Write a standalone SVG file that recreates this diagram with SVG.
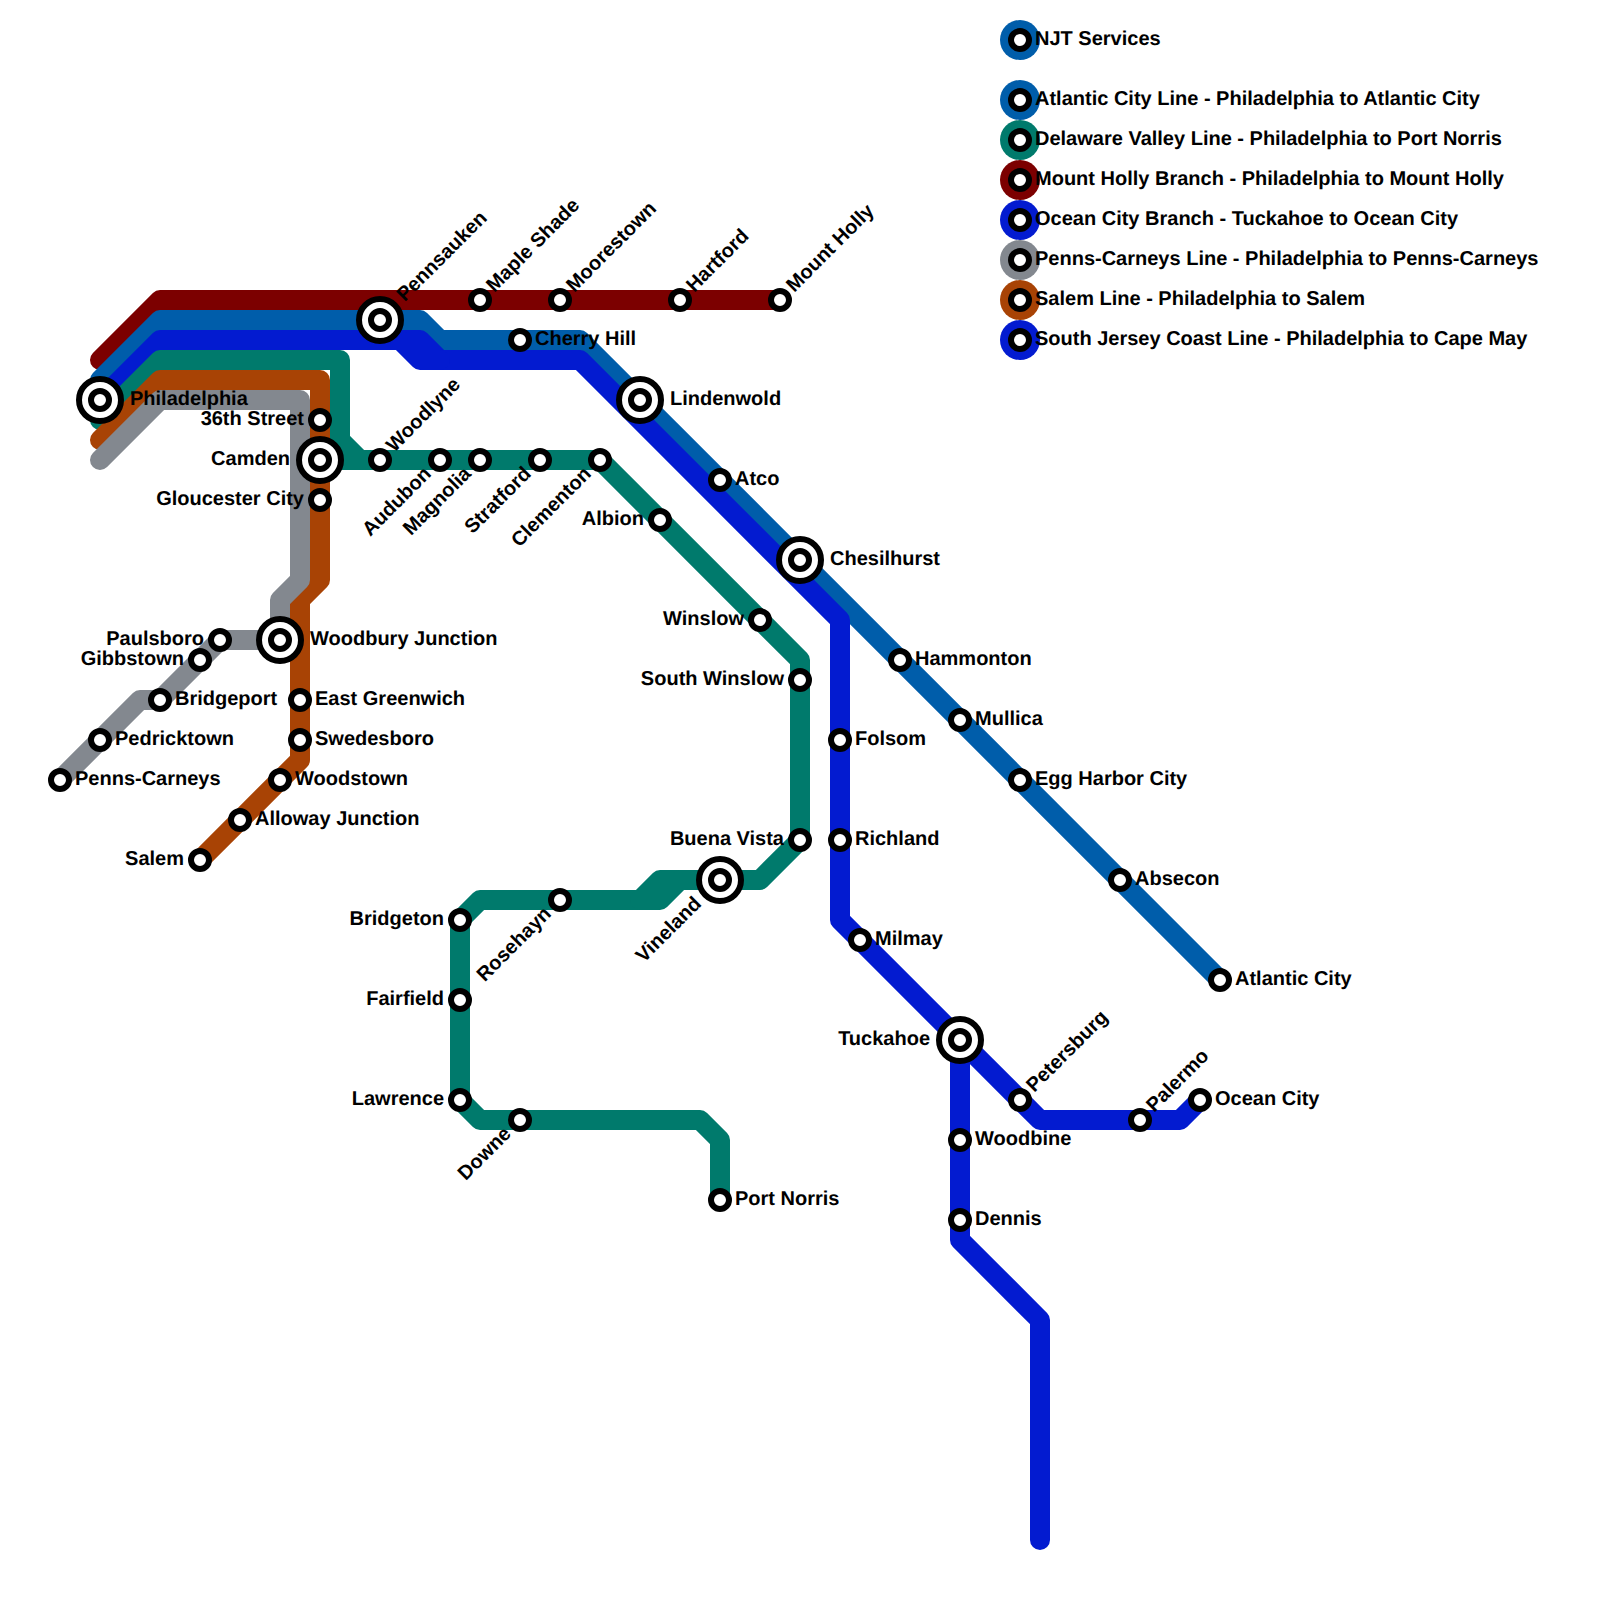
<svg xmlns="http://www.w3.org/2000/svg" width="1600" height="1600" viewBox="0 0 1600 1600">
<style>
text{font-family:"Liberation Sans",Arial,sans-serif;font-weight:700;font-size:20px;fill:#000;text-rendering:geometricPrecision}
.l{fill:none;stroke-width:20;stroke-linecap:round;stroke-linejoin:round}
.ac{stroke:#005daa}.dv{stroke:#007a6c}.mh{stroke:#7c0000}.oc{stroke:#031bd0}.pc{stroke:#83888f}.sa{stroke:#a84305}.sj{stroke:#031bd0}
.s{fill:#fff;stroke:#000;stroke-width:6}
.e{text-anchor:end}
</style>
<defs>
<g id="st"><circle r="9" class="s"/></g>
<g id="ix"><circle r="21" class="s"/><circle r="9" class="s"/></g>
</defs>
<rect width="1600" height="1600" fill="#fff"/>
<g id="connectors">
<path class="l mh" d="M100 360L160 300H780"/>
<path class="l ac" d="M100 380L160 320H420L440 340H580L1220 980"/>
<path class="l sj" d="M100 400L160 340H420L440 360H580L840 620V920L960 1040V1240L1040 1320V1540"/>
<path class="l sj" d="M400 340L420 360H440"/>
<path class="l oc" d="M960 1040L1040 1120H1180L1200 1100"/>
<path class="l dv" d="M100 420L160 360H340V440L360 460H600L800 660V840L760 880H660L640 900H480L460 920V1100L480 1120H700L720 1140V1200"/>
<path class="l dv" d="M640 900H660L680 880H700"/>
<path class="l dv" d="M320 460H360"/>
<path class="l sa" d="M100 440L160 380H320V580L300 600V760L200 860"/>
<path class="l pc" d="M100 460L160 400H300V580L280 600V640H220L160 700H140L60 780"/>
</g>
<g id="n-philadelphia"><use href="#ix" x="100" y="400"/><text x="130" y="405">Philadelphia</text></g>
<g id="n-36th"><use href="#st" x="320" y="420"/><text class="e" x="304" y="425">36th Street</text></g>
<g id="n-camden"><use href="#ix" x="320" y="460"/><text class="e" x="290" y="465">Camden</text></g>
<g id="n-gloucester"><use href="#st" x="320" y="500"/><text class="e" x="304" y="505">Gloucester City</text></g>
<g id="n-paulsboro"><use href="#st" x="220" y="640"/><text class="e" x="204" y="645">Paulsboro</text></g>
<g id="n-gibbstown"><use href="#st" x="200" y="660"/><text class="e" x="184" y="665">Gibbstown</text></g>
<g id="n-bridgeport"><use href="#st" x="160" y="700"/><text x="175" y="705">Bridgeport</text></g>
<g id="n-pedricktown"><use href="#st" x="100" y="740"/><text x="115" y="745">Pedricktown</text></g>
<g id="n-penns"><use href="#st" x="60" y="780"/><text x="75" y="785">Penns-Carneys</text></g>
<g id="n-woodbury"><use href="#ix" x="280" y="640"/><text x="310" y="645">Woodbury Junction</text></g>
<g id="n-eastgreenwich"><use href="#st" x="300" y="700"/><text x="315" y="705">East Greenwich</text></g>
<g id="n-swedesboro"><use href="#st" x="300" y="740"/><text x="315" y="745">Swedesboro</text></g>
<g id="n-woodstown"><use href="#st" x="280" y="780"/><text x="295" y="785">Woodstown</text></g>
<g id="n-alloway"><use href="#st" x="240" y="820"/><text x="255" y="825">Alloway Junction</text></g>
<g id="n-salem"><use href="#st" x="200" y="860"/><text class="e" x="184" y="865">Salem</text></g>
<g id="n-pennsauken"><use href="#ix" x="380" y="320"/><text x="410" y="325" transform="rotate(-45 380 320)">Pennsauken</text></g>
<g id="n-mapleshade"><use href="#st" x="480" y="300"/><text x="495" y="305" transform="rotate(-45 480 300)">Maple Shade</text></g>
<g id="n-moorestown"><use href="#st" x="560" y="300"/><text x="575" y="305" transform="rotate(-45 560 300)">Moorestown</text></g>
<g id="n-hartford"><use href="#st" x="680" y="300"/><text x="695" y="305" transform="rotate(-45 680 300)">Hartford</text></g>
<g id="n-mountholly"><use href="#st" x="780" y="300"/><text x="795" y="305" transform="rotate(-45 780 300)">Mount Holly</text></g>
<g id="n-cherryhill"><use href="#st" x="520" y="340"/><text x="535" y="345">Cherry Hill</text></g>
<g id="n-lindenwold"><use href="#ix" x="640" y="400"/><text x="670" y="405">Lindenwold</text></g>
<g id="n-atco"><use href="#st" x="720" y="480"/><text x="735" y="485">Atco</text></g>
<g id="n-chesilhurst"><use href="#ix" x="800" y="560"/><text x="830" y="565">Chesilhurst</text></g>
<g id="n-hammonton"><use href="#st" x="900" y="660"/><text x="915" y="665">Hammonton</text></g>
<g id="n-mullica"><use href="#st" x="960" y="720"/><text x="975" y="725">Mullica</text></g>
<g id="n-eggharbor"><use href="#st" x="1020" y="780"/><text x="1035" y="785">Egg Harbor City</text></g>
<g id="n-absecon"><use href="#st" x="1120" y="880"/><text x="1135" y="885">Absecon</text></g>
<g id="n-atlanticcity"><use href="#st" x="1220" y="980"/><text x="1235" y="985">Atlantic City</text></g>
<g id="n-woodlyne"><use href="#st" x="380" y="460"/><text x="395" y="465" transform="rotate(-45 380 460)">Woodlyne</text></g>
<g id="n-audubon"><use href="#st" x="440" y="460"/><text class="e" x="424" y="465" transform="rotate(-45 440 460)">Audubon</text></g>
<g id="n-magnolia"><use href="#st" x="480" y="460"/><text class="e" x="464" y="465" transform="rotate(-45 480 460)">Magnolia</text></g>
<g id="n-stratford"><use href="#st" x="540" y="460"/><text class="e" x="524" y="465" transform="rotate(-45 540 460)">Stratford</text></g>
<g id="n-clementon"><use href="#st" x="600" y="460"/><text class="e" x="584" y="465" transform="rotate(-45 600 460)">Clementon</text></g>
<g id="n-albion"><use href="#st" x="660" y="520"/><text class="e" x="644" y="525">Albion</text></g>
<g id="n-winslow"><use href="#st" x="760" y="620"/><text class="e" x="744" y="625">Winslow</text></g>
<g id="n-southwinslow"><use href="#st" x="800" y="680"/><text class="e" x="784" y="685">South Winslow</text></g>
<g id="n-buenavista"><use href="#st" x="800" y="840"/><text class="e" x="784" y="845">Buena Vista</text></g>
<g id="n-vineland"><use href="#ix" x="720" y="880"/><text class="e" x="690" y="885" transform="rotate(-45 720 880)">Vineland</text></g>
<g id="n-rosehayn"><use href="#st" x="560" y="900"/><text class="e" x="544" y="905" transform="rotate(-45 560 900)">Rosehayn</text></g>
<g id="n-bridgeton"><use href="#st" x="460" y="920"/><text class="e" x="444" y="925">Bridgeton</text></g>
<g id="n-fairfield"><use href="#st" x="460" y="1000"/><text class="e" x="444" y="1005">Fairfield</text></g>
<g id="n-lawrence"><use href="#st" x="460" y="1100"/><text class="e" x="444" y="1105">Lawrence</text></g>
<g id="n-downe"><use href="#st" x="520" y="1120"/><text class="e" x="504" y="1125" transform="rotate(-45 520 1120)">Downe</text></g>
<g id="n-portnorris"><use href="#st" x="720" y="1200"/><text x="735" y="1205">Port Norris</text></g>
<g id="n-folsom"><use href="#st" x="840" y="740"/><text x="855" y="745">Folsom</text></g>
<g id="n-richland"><use href="#st" x="840" y="840"/><text x="855" y="845">Richland</text></g>
<g id="n-milmay"><use href="#st" x="860" y="940"/><text x="875" y="945">Milmay</text></g>
<g id="n-tuckahoe"><use href="#ix" x="960" y="1040"/><text class="e" x="930" y="1045">Tuckahoe</text></g>
<g id="n-petersburg"><use href="#st" x="1020" y="1100"/><text x="1035" y="1105" transform="rotate(-45 1020 1100)">Petersburg</text></g>
<g id="n-palermo"><use href="#st" x="1140" y="1120"/><text x="1155" y="1125" transform="rotate(-45 1140 1120)">Palermo</text></g>
<g id="n-oceancity"><use href="#st" x="1200" y="1100"/><text x="1215" y="1105">Ocean City</text></g>
<g id="n-woodbine"><use href="#st" x="960" y="1140"/><text x="975" y="1145">Woodbine</text></g>
<g id="n-dennis"><use href="#st" x="960" y="1220"/><text x="975" y="1225">Dennis</text></g>
<g id="legend">
<g id="lg-njt"><circle cx="1020" cy="40" r="20" fill="#005daa"/><use href="#st" x="1020" y="40"/><text x="1035" y="45">NJT Services</text></g>
<g id="lg-ac"><circle cx="1020" cy="100" r="20" fill="#005daa"/><use href="#st" x="1020" y="100"/><text x="1035" y="105">Atlantic City Line - Philadelphia to Atlantic City</text></g>
<g id="lg-dv"><circle cx="1020" cy="140" r="20" fill="#007a6c"/><use href="#st" x="1020" y="140"/><text x="1035" y="145">Delaware Valley Line - Philadelphia to Port Norris</text></g>
<g id="lg-mh"><circle cx="1020" cy="180" r="20" fill="#7c0000"/><use href="#st" x="1020" y="180"/><text x="1035" y="185">Mount Holly Branch - Philadelphia to Mount Holly</text></g>
<g id="lg-oc"><circle cx="1020" cy="220" r="20" fill="#031bd0"/><use href="#st" x="1020" y="220"/><text x="1035" y="225">Ocean City Branch - Tuckahoe to Ocean City</text></g>
<g id="lg-pc"><circle cx="1020" cy="260" r="20" fill="#83888f"/><use href="#st" x="1020" y="260"/><text x="1035" y="265">Penns-Carneys Line - Philadelphia to Penns-Carneys</text></g>
<g id="lg-sa"><circle cx="1020" cy="300" r="20" fill="#a84305"/><use href="#st" x="1020" y="300"/><text x="1035" y="305">Salem Line - Philadelphia to Salem</text></g>
<g id="lg-sj"><circle cx="1020" cy="340" r="20" fill="#031bd0"/><use href="#st" x="1020" y="340"/><text x="1035" y="345">South Jersey Coast Line - Philadelphia to Cape May</text></g>
</g>
</svg>
